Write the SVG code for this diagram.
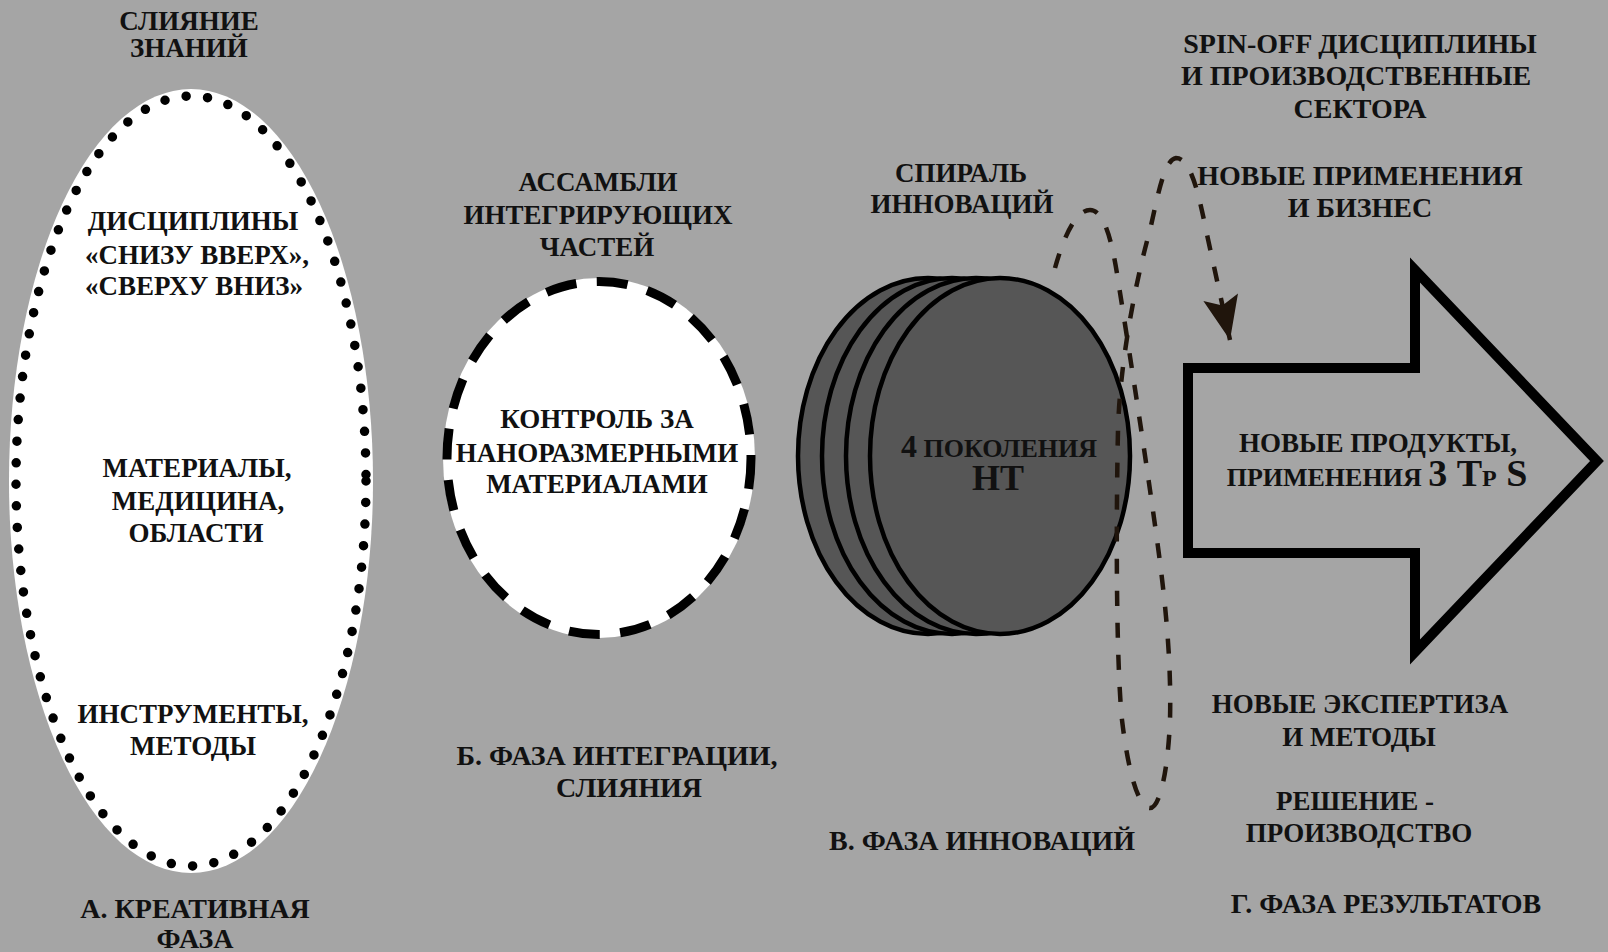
<svg xmlns="http://www.w3.org/2000/svg" width="1608" height="952" viewBox="0 0 1608 952">
<defs>
<style>
text{font-family:"Liberation Serif","Times New Roman",serif;font-weight:bold;font-size:27px;fill:#111;text-anchor:middle}
text.ph{font-size:28px}
.disk{fill:#565656;stroke:#000;stroke-width:4.5}
.spiral{fill:none;stroke:#20150c;stroke-width:4.5;stroke-dasharray:15 17}
</style>
<marker id="ah" markerUnits="userSpaceOnUse" markerWidth="50" markerHeight="50" viewBox="-44 -22 48 44" refX="0" refY="0" orient="auto">
<path d="M0,0 L-42,-17 L-34,0 L-42,17 Z" fill="#20150c"/>
</marker>
</defs>
<rect x="0" y="0" width="1608" height="952" fill="#a5a5a5"/>

<g id="creative">
<ellipse cx="191" cy="481" rx="182" ry="392" fill="#fff"/>
<ellipse cx="191" cy="481" rx="175" ry="385" fill="none" stroke="#000" stroke-width="9.5" stroke-linecap="round" stroke-dasharray="0 21.6"/>
<text x="189" y="30">СЛИЯНИЕ</text>
<text x="189" y="57">ЗНАНИЙ</text>
<text x="193" y="230">ДИСЦИПЛИНЫ</text>
<text x="197" y="264">«СНИЗУ ВВЕРХ»,</text>
<text x="194" y="295">«СВЕРХУ ВНИЗ»</text>
<text x="197" y="477">МАТЕРИАЛЫ,</text>
<text x="198" y="510">МЕДИЦИНА,</text>
<text x="196" y="542">ОБЛАСТИ</text>
<text x="193" y="723">ИНСТРУМЕНТЫ,</text>
<text x="193" y="755">МЕТОДЫ</text>
<text class="ph" x="195" y="918">А. КРЕАТИВНАЯ</text>
<text class="ph" x="195" y="948">ФАЗА</text>
</g>

<g id="integration">
<ellipse cx="599" cy="458" rx="156" ry="180" fill="#fff"/>
<ellipse cx="599" cy="458" rx="152" ry="176.5" fill="none" stroke="#000" stroke-width="9" stroke-dasharray="31 20.5"/>
<text x="598" y="191">АССАМБЛИ</text>
<text x="598" y="224">ИНТЕГРИРУЮЩИХ</text>
<text x="597" y="256">ЧАСТЕЙ</text>
<text x="597" y="428">КОНТРОЛЬ ЗА</text>
<text x="597" y="462">НАНОРАЗМЕРНЫМИ</text>
<text x="597" y="493">МАТЕРИАЛАМИ</text>
<text class="ph" x="617" y="765">Б. ФАЗА ИНТЕГРАЦИИ,</text>
<text class="ph" x="629" y="797">СЛИЯНИЯ</text>
</g>

<g id="innovation">
<ellipse class="disk" cx="928" cy="456" rx="130" ry="178"/>
<ellipse class="disk" cx="952" cy="456" rx="130" ry="178"/>
<ellipse class="disk" cx="976" cy="456" rx="130" ry="178"/>
<ellipse class="disk" cx="1000" cy="456" rx="130" ry="178"/>
<text x="961" y="182">СПИРАЛЬ</text>
<text x="962" y="213">ИННОВАЦИЙ</text>
<text x="999" y="457"><tspan style="font-size:32px">4</tspan><tspan style="font-size:26px"> ПОКОЛЕНИЯ</tspan></text>
<text x="998" y="490" style="font-size:36px">НТ</text>
<text class="ph" x="982" y="850">В. ФАЗА ИННОВАЦИЙ</text>
</g>

<g id="results">
<path d="M1188,368 L1415,368 L1415,270 L1597,461 L1415,652 L1415,553 L1188,553 Z" fill="none" stroke="#000" stroke-width="10" stroke-linejoin="miter"/>
<text x="1378" y="452">НОВЫЕ ПРОДУКТЫ,</text>
<text x="1377" y="486"><tspan style="font-size:26px">ПРИМЕНЕНИЯ </tspan><tspan style="font-size:38px">3 Т</tspan><tspan style="font-size:24px">Р</tspan><tspan style="font-size:38px"> S</tspan></text>
<text x="1360" y="53" style="font-size:28px">SPIN-OFF ДИСЦИПЛИНЫ</text>
<text x="1356" y="85" style="font-size:28px">И ПРОИЗВОДСТВЕННЫЕ</text>
<text x="1360" y="118" style="font-size:28px">СЕКТОРА</text>
<text x="1360" y="185" style="font-size:28px">НОВЫЕ ПРИМЕНЕНИЯ</text>
<text x="1360" y="217" style="font-size:28px">И БИЗНЕС</text>
<text x="1360" y="713">НОВЫЕ ЭКСПЕРТИЗА</text>
<text x="1359" y="746">И МЕТОДЫ</text>
<text x="1355" y="810">РЕШЕНИЕ -</text>
<text x="1359" y="842">ПРОИЗВОДСТВО</text>
<text class="ph" x="1386" y="913">Г. ФАЗА РЕЗУЛЬТАТОВ</text>
</g>

<g id="connectors">
<path class="spiral" marker-end="url(#ah)" d="M1055,268 C1064,236 1076,210 1090,210 C1104,210 1112,240 1118,280 C1126,330 1140,420 1150,490 C1160,560 1172,640 1170,720 C1168,770 1160,808 1150,808 C1138,808 1128,770 1122,720 C1116,660 1116,520 1118,430 C1120,360 1136,280 1150,230 C1158,195 1164,160 1176,158 C1190,158 1198,190 1206,230 L1230,340"/>
</g>
</svg>
